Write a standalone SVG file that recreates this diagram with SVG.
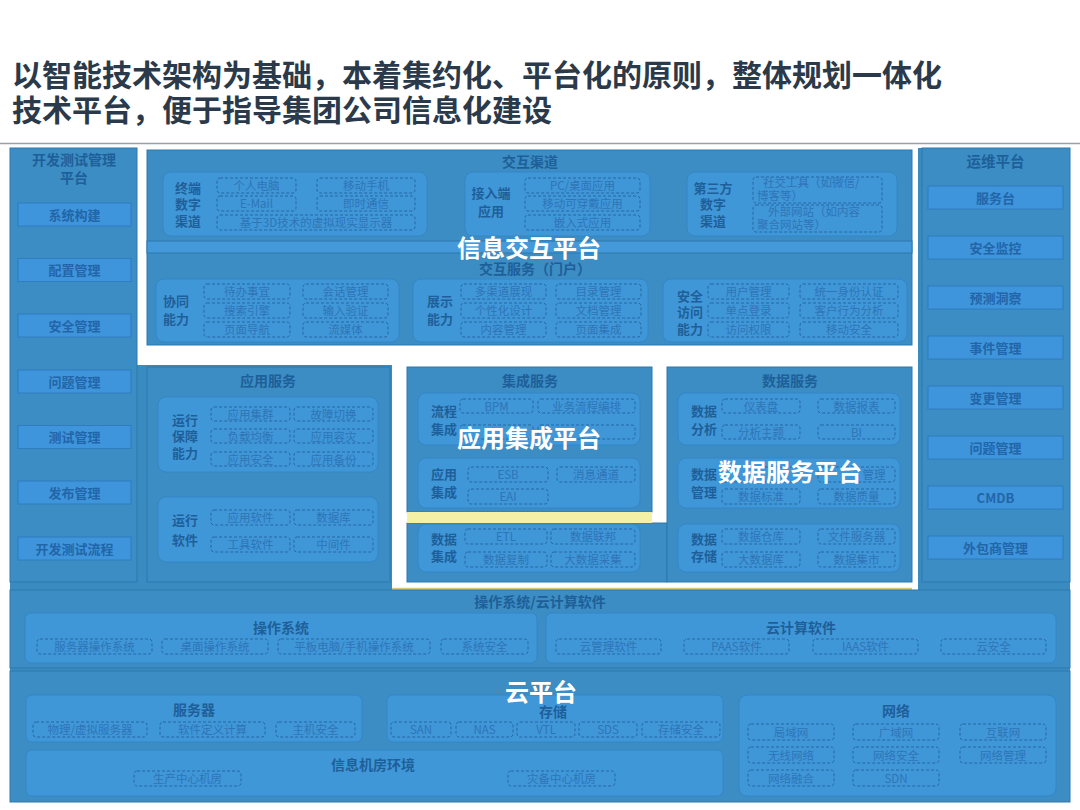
<svg xmlns="http://www.w3.org/2000/svg" width="1080" height="810" viewBox="0 0 1080 810">
<style>
text{font-family:"Noto Sans CJK SC","Noto Sans",sans-serif}
.title{font-size:30px;font-weight:bold;fill:#2b3a4a}
.bg{fill:#3a8cc0}
.panel{fill:#3b8dc3;stroke:#2d78ad;stroke-width:1}
.box{fill:#3f97d8;stroke:#3586c6;stroke-width:1}
.btn{fill:#3e95dc;stroke:#2f7cc0;stroke-width:1}
.dash{fill:none;stroke:#2767a3;stroke-width:1;stroke-dasharray:3 2}
.hdr{font-size:14px;font-weight:bold;fill:#1f5f99;text-anchor:middle}
.lbl{font-size:13px;font-weight:bold;fill:#1f5f99;text-anchor:middle}
.bt{font-size:13px;font-weight:bold;fill:#2265a8;text-anchor:middle}
.it{font-size:11.5px;fill:#2f74b6;text-anchor:middle}
.its{font-size:11.5px;fill:#2f74b6}
.big{font-size:24px;font-weight:bold;fill:#ffffff;text-anchor:middle}
</style>
<rect width="1080" height="810" fill="#ffffff"/>
<g id="title">
<text class="title" x="12" y="86">以智能技术架构为基础，本着集约化、平台化的原则，整体规划一体化</text>
<text class="title" x="12" y="121">技术平台，便于指导集团公司信息化建设</text>
<line x1="0" y1="143.5" x2="1080" y2="143.5" stroke="#9aa0a6" stroke-width="1.5"/>
</g>
<g id="background">
<rect class="bg" x="10" y="148" width="1060" height="654"/>
<path d="M137 145 H918 V590 H392 V365 H137 Z" fill="#ffffff"/>
<line x1="392" y1="589" x2="912" y2="589" stroke="#d8c878" stroke-width="2.5"/>
</g>
<g id="dev-test-platform">
<rect class="panel" x="10" y="148" width="127" height="434"/>
<text class="hdr" x="74" y="165">开发测试管理</text>
<text class="hdr" x="74" y="183">平台</text>
<rect class="btn" x="18" y="203" width="113" height="23"/><text class="bt" x="74.5" y="219.5">系统构建</text>
<rect class="btn" x="18" y="258.5" width="113" height="23"/><text class="bt" x="74.5" y="275">配置管理</text>
<rect class="btn" x="18" y="314" width="113" height="23"/><text class="bt" x="74.5" y="330.5">安全管理</text>
<rect class="btn" x="18" y="370" width="113" height="23"/><text class="bt" x="74.5" y="386.5">问题管理</text>
<rect class="btn" x="18" y="425.5" width="113" height="23"/><text class="bt" x="74.5" y="442">测试管理</text>
<rect class="btn" x="18" y="481" width="113" height="23"/><text class="bt" x="74.5" y="497.5">发布管理</text>
<rect class="btn" x="18" y="537" width="113" height="23"/><text class="bt" x="74.5" y="553.5">开发测试流程</text>
</g>
<g id="ops-platform">
<rect class="panel" x="922" y="148" width="148" height="434"/>
<text class="hdr" x="995.5" y="167" style="font-size:14.5px">运维平台</text>
<rect class="btn" x="928" y="186" width="135" height="23"/><text class="bt" x="995.5" y="202.5">服务台</text>
<rect class="btn" x="928" y="236" width="135" height="23"/><text class="bt" x="995.5" y="252.5">安全监控</text>
<rect class="btn" x="928" y="286" width="135" height="23"/><text class="bt" x="995.5" y="302.5">预测洞察</text>
<rect class="btn" x="928" y="336" width="135" height="23"/><text class="bt" x="995.5" y="352.5">事件管理</text>
<rect class="btn" x="928" y="386" width="135" height="23"/><text class="bt" x="995.5" y="402.5">变更管理</text>
<rect class="btn" x="928" y="436" width="135" height="23"/><text class="bt" x="995.5" y="452.5">问题管理</text>
<rect class="btn" x="928" y="486" width="135" height="23"/><text class="bt" x="995.5" y="502.5">CMDB</text>
<rect class="btn" x="928" y="536" width="135" height="23"/><text class="bt" x="995.5" y="552.5">外包商管理</text>
</g>
<g id="interaction-platform">
<rect class="panel" x="147" y="150" width="765" height="195"/>
<text class="hdr" x="530" y="167">交互渠道</text>
<rect x="147" y="241" width="765" height="12" fill="#4399d9" stroke="#2d78ad" stroke-width="1"/>
<g id="terminal-channel">
<rect class="box" x="163" y="172" width="264" height="64" rx="8"/>
<text class="lbl" x="188" y="193">终端</text><text class="lbl" x="188" y="209">数字</text><text class="lbl" x="188" y="226">渠道</text>
<rect class="dash" x="217" y="178" width="79" height="15" rx="3"/><text class="it" x="256.5" y="190">个人电脑</text>
<rect class="dash" x="317" y="178" width="98" height="15" rx="3"/><text class="it" x="366" y="190">移动手机</text>
<rect class="dash" x="217" y="196" width="79" height="15" rx="3"/><text class="it" x="256.5" y="208">E-Mail</text>
<rect class="dash" x="317" y="196" width="98" height="15" rx="3"/><text class="it" x="366" y="208">即时通信</text>
<rect class="dash" x="217" y="215" width="198" height="15" rx="3"/><text class="it" x="316" y="227">基于3D技术的虚拟现实显示器</text>
</g>
<g id="access-app">
<rect class="box" x="465" y="172" width="185" height="64" rx="8"/>
<text class="lbl" x="491" y="198">接入端</text><text class="lbl" x="491" y="216">应用</text>
<rect class="dash" x="525" y="178" width="115" height="15" rx="3"/><text class="it" x="582.5" y="190">PC/桌面应用</text>
<rect class="dash" x="525" y="196" width="115" height="15" rx="3"/><text class="it" x="582.5" y="208">移动可穿戴应用</text>
<rect class="dash" x="525" y="215" width="115" height="15" rx="3"/><text class="it" x="582.5" y="227">嵌入式应用</text>
</g>
<g id="third-party">
<rect class="box" x="687" y="172" width="210" height="64" rx="8"/>
<text class="lbl" x="713" y="193">第三方</text><text class="lbl" x="713" y="209">数字</text><text class="lbl" x="713" y="226">渠道</text>
<rect class="dash" x="753" y="177" width="129" height="26" rx="3"/>
<text class="its" x="763" y="187">社交工具（如微信/</text><text class="its" x="757" y="200">博客等）</text>
<rect class="dash" x="753" y="205" width="129" height="27" rx="3"/>
<text class="its" x="768" y="216">外部网站（如内容</text><text class="its" x="757" y="229">聚合网站等）</text>
</g>
<text class="hdr" x="535" y="274">交互服务（门户）</text>
<g id="collab">
<rect class="box" x="156" y="279" width="243" height="63" rx="8"/>
<text class="lbl" x="176" y="306">协同</text><text class="lbl" x="176" y="324">能力</text>
<rect class="dash" x="204" y="284" width="86" height="15" rx="3"/><text class="it" x="247" y="296">待办事宜</text>
<rect class="dash" x="303" y="284" width="85" height="15" rx="3"/><text class="it" x="345.5" y="296">会话管理</text>
<rect class="dash" x="204" y="303" width="86" height="15" rx="3"/><text class="it" x="247" y="315">搜索引擎</text>
<rect class="dash" x="303" y="303" width="85" height="15" rx="3"/><text class="it" x="345.5" y="315">输入验证</text>
<rect class="dash" x="204" y="322" width="86" height="15" rx="3"/><text class="it" x="247" y="334">页面导航</text>
<rect class="dash" x="303" y="322" width="85" height="15" rx="3"/><text class="it" x="345.5" y="334">流媒体</text>
</g>
<g id="display">
<rect class="box" x="413" y="279" width="235" height="63" rx="8"/>
<text class="lbl" x="440" y="306">展示</text><text class="lbl" x="440" y="324">能力</text>
<rect class="dash" x="461" y="284" width="85" height="15" rx="3"/><text class="it" x="503.5" y="296">多渠道展现</text>
<rect class="dash" x="556" y="284" width="85" height="15" rx="3"/><text class="it" x="598.5" y="296">目录管理</text>
<rect class="dash" x="461" y="303" width="85" height="15" rx="3"/><text class="it" x="503.5" y="315">个性化设计</text>
<rect class="dash" x="556" y="303" width="85" height="15" rx="3"/><text class="it" x="598.5" y="315">文档管理</text>
<rect class="dash" x="461" y="322" width="85" height="15" rx="3"/><text class="it" x="503.5" y="334">内容管理</text>
<rect class="dash" x="556" y="322" width="85" height="15" rx="3"/><text class="it" x="598.5" y="334">页面集成</text>
</g>
<g id="secure-access">
<rect class="box" x="663" y="279" width="244" height="63" rx="8"/>
<text class="lbl" x="690" y="301">安全</text><text class="lbl" x="690" y="317">访问</text><text class="lbl" x="690" y="334">能力</text>
<rect class="dash" x="708" y="284" width="81" height="15" rx="3"/><text class="it" x="748.5" y="296">用户管理</text>
<rect class="dash" x="800" y="284" width="98" height="15" rx="3"/><text class="it" x="849" y="296">统一身份认证</text>
<rect class="dash" x="708" y="303" width="81" height="15" rx="3"/><text class="it" x="748.5" y="315">单点登录</text>
<rect class="dash" x="800" y="303" width="98" height="15" rx="3"/><text class="it" x="849" y="315">客户行为分析</text>
<rect class="dash" x="708" y="322" width="81" height="15" rx="3"/><text class="it" x="748.5" y="334">访问权限</text>
<rect class="dash" x="800" y="322" width="98" height="15" rx="3"/><text class="it" x="849" y="334">移动安全</text>
</g>
<text class="big" x="529" y="257">信息交互平台</text>
</g>
<g id="app-services">
<rect class="panel" x="147" y="367" width="243" height="215"/>
<text class="hdr" x="268" y="386">应用服务</text>
<rect class="box" x="158" y="397" width="220" height="75" rx="8"/>
<text class="lbl" x="185" y="425">运行</text><text class="lbl" x="185" y="441">保障</text><text class="lbl" x="185" y="458">能力</text>
<rect class="dash" x="211" y="407" width="79" height="14" rx="3"/><text class="it" x="250.5" y="418.5">应用集群</text>
<rect class="dash" x="294" y="407" width="79" height="14" rx="3"/><text class="it" x="333.5" y="418.5">故障切换</text>
<rect class="dash" x="211" y="429" width="79" height="14" rx="3"/><text class="it" x="250.5" y="440.5">负载均衡</text>
<rect class="dash" x="294" y="429" width="79" height="14" rx="3"/><text class="it" x="333.5" y="440.5">应用容灾</text>
<rect class="dash" x="211" y="452" width="79" height="14" rx="3"/><text class="it" x="250.5" y="463.5">应用安全</text>
<rect class="dash" x="294" y="452" width="79" height="14" rx="3"/><text class="it" x="333.5" y="463.5">应用备份</text>
<rect class="box" x="158" y="497" width="220" height="65" rx="8"/>
<text class="lbl" x="185" y="525">运行</text><text class="lbl" x="185" y="545">软件</text>
<rect class="dash" x="211" y="510" width="79" height="15" rx="3"/><text class="it" x="250.5" y="522">应用软件</text>
<rect class="dash" x="294" y="510" width="79" height="15" rx="3"/><text class="it" x="333.5" y="522">数据库</text>
<rect class="dash" x="211" y="537" width="79" height="15" rx="3"/><text class="it" x="250.5" y="549">工具软件</text>
<rect class="dash" x="294" y="537" width="79" height="15" rx="3"/><text class="it" x="333.5" y="549">中间件</text>
</g>
<g id="integration-services">
<rect class="panel" x="407" y="367" width="245" height="145"/>
<rect class="panel" x="407" y="523" width="260" height="59"/>
<rect x="407" y="512" width="245" height="11" fill="#f4f1a6"/>
<text class="hdr" x="530" y="386">集成服务</text>
<rect class="box" x="418" y="393" width="222" height="52" rx="8"/>
<text class="lbl" x="444" y="416">流程</text><text class="lbl" x="444" y="434">集成</text>
<rect class="dash" x="460" y="399" width="73" height="14" rx="3"/><text class="it" x="496.5" y="410.5">BPM</text>
<rect class="dash" x="538" y="399" width="97" height="14" rx="3"/><text class="it" x="586.5" y="410.5">业务流程编排</text>
<rect class="dash" x="460" y="425" width="73" height="14" rx="3"/>
<rect class="dash" x="538" y="425" width="97" height="14" rx="3"/>
<rect class="box" x="418" y="458" width="222" height="50" rx="8"/>
<text class="lbl" x="444" y="479">应用</text><text class="lbl" x="444" y="497">集成</text>
<rect class="dash" x="468" y="467" width="80" height="15" rx="3"/><text class="it" x="508" y="479">ESB</text>
<rect class="dash" x="557" y="467" width="78" height="15" rx="3"/><text class="it" x="596" y="479">消息通道</text>
<rect class="dash" x="468" y="489" width="80" height="15" rx="3"/><text class="it" x="508" y="501">EAI</text>
<rect class="box" x="418" y="524" width="222" height="48" rx="8"/>
<text class="lbl" x="444" y="544">数据</text><text class="lbl" x="444" y="561">集成</text>
<rect class="dash" x="465" y="529" width="82" height="15" rx="3"/><text class="it" x="506" y="541">ETL</text>
<rect class="dash" x="551" y="529" width="84" height="15" rx="3"/><text class="it" x="593" y="541">数据联邦</text>
<rect class="dash" x="465" y="552" width="82" height="15" rx="3"/><text class="it" x="506" y="564">数据复制</text>
<rect class="dash" x="551" y="552" width="84" height="15" rx="3"/><text class="it" x="593" y="564">大数据采集</text>
<text class="big" x="529" y="447">应用集成平台</text>
</g>
<g id="data-services">
<rect class="panel" x="667" y="367" width="245" height="215"/>
<text class="hdr" x="790" y="386">数据服务</text>
<rect class="box" x="678" y="393" width="222" height="52" rx="8"/>
<text class="lbl" x="704" y="416">数据</text><text class="lbl" x="704" y="434">分析</text>
<rect class="dash" x="722" y="399" width="78" height="14" rx="3"/><text class="it" x="761" y="410.5">仪表盘</text>
<rect class="dash" x="818" y="399" width="77" height="14" rx="3"/><text class="it" x="856.5" y="410.5">数据报表</text>
<rect class="dash" x="722" y="425" width="78" height="14" rx="3"/><text class="it" x="761" y="436.5">分析主题</text>
<rect class="dash" x="818" y="425" width="77" height="14" rx="3"/><text class="it" x="856.5" y="436.5">BI</text>
<rect class="box" x="678" y="458" width="222" height="50" rx="8"/>
<text class="lbl" x="704" y="479">数据</text><text class="lbl" x="704" y="497">管理</text>
<rect class="dash" x="722" y="467" width="78" height="15" rx="3"/>
<rect class="dash" x="818" y="467" width="77" height="15" rx="3"/><text class="it" x="874" y="479">管理</text>
<rect class="dash" x="722" y="489" width="78" height="15" rx="3"/><text class="it" x="761" y="501">数据标准</text>
<rect class="dash" x="818" y="489" width="77" height="15" rx="3"/><text class="it" x="856.5" y="501">数据质量</text>
<rect class="box" x="678" y="524" width="222" height="48" rx="8"/>
<text class="lbl" x="704" y="544">数据</text><text class="lbl" x="704" y="561">存储</text>
<rect class="dash" x="722" y="529" width="78" height="15" rx="3"/><text class="it" x="761" y="541">数据仓库</text>
<rect class="dash" x="818" y="529" width="77" height="15" rx="3"/><text class="it" x="856.5" y="541">文件服务器</text>
<rect class="dash" x="722" y="552" width="78" height="15" rx="3"/><text class="it" x="761" y="564">大数据库</text>
<rect class="dash" x="818" y="552" width="77" height="15" rx="3"/><text class="it" x="856.5" y="564">数据集市</text>
<text class="big" x="790" y="481">数据服务平台</text>
</g>
<g id="os-cloud-software">
<rect class="panel" x="10" y="590" width="1060" height="78"/>
<text class="hdr" x="540" y="607">操作系统/云计算软件</text>
<g id="os">
<rect class="box" x="25" y="613" width="512" height="50" rx="6"/>
<text class="hdr" x="281" y="633">操作系统</text>
<rect class="dash" x="37" y="639" width="115" height="15" rx="3"/><text class="it" x="94.5" y="651">服务器操作系统</text>
<rect class="dash" x="162" y="639" width="106" height="15" rx="3"/><text class="it" x="215" y="651">桌面操作系统</text>
<rect class="dash" x="278" y="639" width="152" height="15" rx="3"/><text class="it" x="354" y="651">平板电脑/手机操作系统</text>
<rect class="dash" x="441" y="639" width="87" height="15" rx="3"/><text class="it" x="484.5" y="651">系统安全</text>
</g>
<g id="cloud-software">
<rect class="box" x="546" y="613" width="510" height="50" rx="6"/>
<text class="hdr" x="801" y="633">云计算软件</text>
<rect class="dash" x="556" y="639" width="105" height="15" rx="3"/><text class="it" x="608.5" y="651">云管理软件</text>
<rect class="dash" x="684" y="639" width="105" height="15" rx="3"/><text class="it" x="736.5" y="651">PAAS软件</text>
<rect class="dash" x="813" y="639" width="105" height="15" rx="3"/><text class="it" x="865.5" y="651">IAAS软件</text>
<rect class="dash" x="941" y="639" width="105" height="15" rx="3"/><text class="it" x="993.5" y="651">云安全</text>
</g>
</g>
<g id="cloud-platform">
<rect class="panel" x="10" y="671" width="1060" height="131"/>
<g id="server">
<rect class="box" x="26" y="695" width="336" height="47" rx="6"/>
<text class="hdr" x="194" y="715">服务器</text>
<rect class="dash" x="33" y="722" width="114" height="15" rx="3"/><text class="it" x="90" y="734">物理/虚拟服务器</text>
<rect class="dash" x="160" y="722" width="105" height="15" rx="3"/><text class="it" x="212.5" y="734">软件定义计算</text>
<rect class="dash" x="276" y="722" width="79" height="15" rx="3"/><text class="it" x="315.5" y="734">主机安全</text>
</g>
<g id="storage">
<rect class="box" x="387" y="695" width="336" height="47" rx="6"/>
<text class="hdr" x="553" y="717">存储</text>
<rect class="dash" x="391" y="722" width="60" height="15" rx="3"/><text class="it" x="421" y="734">SAN</text>
<rect class="dash" x="456" y="722" width="57" height="15" rx="3"/><text class="it" x="484.5" y="734">NAS</text>
<rect class="dash" x="517" y="722" width="58" height="15" rx="3"/><text class="it" x="546" y="734">VTL</text>
<rect class="dash" x="579" y="722" width="58" height="15" rx="3"/><text class="it" x="608" y="734">SDS</text>
<rect class="dash" x="642" y="722" width="78" height="15" rx="3"/><text class="it" x="681" y="734">存储安全</text>
</g>
<g id="datacenter">
<rect class="box" x="26" y="750" width="697" height="46" rx="6"/>
<text class="hdr" x="373" y="770">信息机房环境</text>
<rect class="dash" x="134" y="771" width="107" height="15" rx="3"/><text class="it" x="187.5" y="783">生产中心机房</text>
<rect class="dash" x="508" y="771" width="107" height="15" rx="3"/><text class="it" x="561.5" y="783">灾备中心机房</text>
</g>
<g id="network">
<rect class="box" x="739" y="695" width="317" height="101" rx="8"/>
<text class="hdr" x="896" y="716">网络</text>
<rect class="dash" x="748" y="724" width="86" height="16" rx="3"/><text class="it" x="791" y="736.5">局域网</text>
<rect class="dash" x="853" y="724" width="86" height="16" rx="3"/><text class="it" x="896" y="736.5">广域网</text>
<rect class="dash" x="960" y="724" width="86" height="16" rx="3"/><text class="it" x="1003" y="736.5">互联网</text>
<rect class="dash" x="748" y="747" width="86" height="16" rx="3"/><text class="it" x="791" y="759.5">无线网络</text>
<rect class="dash" x="853" y="747" width="86" height="16" rx="3"/><text class="it" x="896" y="759.5">网络安全</text>
<rect class="dash" x="960" y="747" width="86" height="16" rx="3"/><text class="it" x="1003" y="759.5">网络管理</text>
<rect class="dash" x="748" y="770" width="86" height="16" rx="3"/><text class="it" x="791" y="782.5">网络融合</text>
<rect class="dash" x="853" y="770" width="86" height="16" rx="3"/><text class="it" x="896" y="782.5">SDN</text>
</g>
<text class="big" x="541" y="701">云平台</text>
</g>
</svg>
